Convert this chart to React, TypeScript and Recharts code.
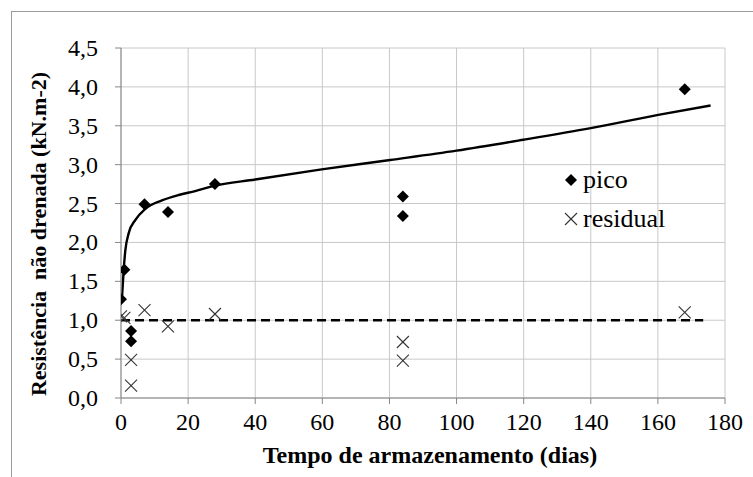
import { CartesianGrid, ComposedChart, Label, Line, Scatter, XAxis, YAxis } from "recharts";

const FONT = "'Liberation Serif', 'Times New Roman', serif";
const AXIS = "#868686";
const GRID = "#c8c8c8";

// measured points
const PICO_X = [0, 1, 3, 3, 7, 14, 28, 84, 84, 168];
const PICO_Y = [1.27, 1.65, 0.86, 0.73, 2.49, 2.39, 2.75, 2.59, 2.34, 3.97];
const RESID_X = [0, 1, 3, 3, 7, 14, 28, 84, 84, 168];
const RESID_Y = [1.05, 1.03, 0.49, 0.16, 1.13, 0.92, 1.08, 0.72, 0.48, 1.1];

// fitted curve for pico
const CURVE_X = [0.3, 0.8, 1.3, 2.3, 4.3, 7.2, 12.2, 17.2, 22.1, 27.1, 40, 59.8, 80.2, 100, 119.9, 140, 160.1, 175.7];
const CURVE_Y = [1.29, 1.65, 1.9, 2.12, 2.29, 2.43, 2.54, 2.61, 2.66, 2.72, 2.81, 2.94, 3.06, 3.18, 3.32, 3.47, 3.64, 3.76];

// residual reference level
const DASH_X = [0, 173.5];
const DASH_Y = [1, 1];

const X_TICKS = [0, 20, 40, 60, 80, 100, 120, 140, 160, 180];
const Y_TICKS = [0, 0.5, 1, 1.5, 2, 2.5, 3, 3.5, 4, 4.5];

const pico = PICO_X.map((x, i) => ({ x, y: PICO_Y[i] }));
const resid = RESID_X.map((x, i) => ({ x, y: RESID_Y[i] }));
const curve = CURVE_X.map((x, i) => ({ x, y: CURVE_Y[i] }));
const dash = DASH_X.map((x, i) => ({ x, y: DASH_Y[i] }));

const Diamond = (p: any) => {
  const { cx, cy } = p;
  const r = 6;
  return <polygon points={`${cx},${cy - r} ${cx + r},${cy} ${cx},${cy + r} ${cx - r},${cy}`} fill="#000" />;
};

const Cross = (p: any) => {
  const { cx, cy } = p;
  const r = 6;
  return (
    <g stroke="#333" strokeWidth={1.1}>
      <line x1={cx - r} y1={cy - r} x2={cx + r} y2={cy + r} />
      <line x1={cx - r} y1={cy + r} x2={cx + r} y2={cy - r} />
    </g>
  );
};

const fmt = (v: number) => v.toFixed(1).replace(".", ",");

const XTick = (p: any) => (
  <text x={p.x} y={p.y} dy={18} textAnchor="middle" fontFamily={FONT} fontSize={24} fill="#000">
    {p.payload.value}
  </text>
);

const YTick = (p: any) => (
  <text x={p.x} y={p.y} dy={8} textAnchor="end" fontFamily={FONT} fontSize={24} fill="#000">
    {fmt(p.payload.value)}
  </text>
);

const YTitle = () => (
  <text x={38} y={234} transform="rotate(-90, 38, 234)" textAnchor="middle" dominantBaseline="central"
        fontFamily={FONT} fontSize={22} fontWeight="bold" fill="#000" style={{ whiteSpace: "pre" }}>
    Resistência  não drenada (kN.m-2)
  </text>
);

const LegendBox = () => (
  <div style={{ position: "absolute", left: 563, top: 160, fontSize: 26, color: "#000", lineHeight: "39px" }}>
    <div style={{ display: "flex", alignItems: "center" }}>
      <svg width={18} height={16} style={{ marginRight: 2 }}><Diamond cx={8} cy={8} /></svg>
      <span>pico</span>
    </div>
    <div style={{ display: "flex", alignItems: "center" }}>
      <svg width={18} height={16} style={{ marginRight: 2 }}><Cross cx={8} cy={8} /></svg>
      <span>residual</span>
    </div>
  </div>
);

export default function App() {
  return (
    <div style={{ position: "absolute", left: 0, top: 0, width: 753, height: 477, background: "#fff", fontFamily: FONT }}>
      <div style={{ position: "absolute", left: 11, top: 11, right: 0, bottom: 0, borderTop: "1px solid #9a9a9a", borderLeft: "1px solid #9a9a9a" }} />
      <ComposedChart width={753} height={477} margin={{ top: 48, right: 28, bottom: 0, left: 0 }} style={{ position: "absolute", left: 0, top: 0 }}>
        <CartesianGrid stroke={GRID} />
        <XAxis
          type="number"
          dataKey="x"
          domain={[0, 180]}
          ticks={X_TICKS}
          interval={0}
          height={79}
          tickSize={6}
          tickMargin={8}
          axisLine={{ stroke: AXIS }}
          tickLine={{ stroke: AXIS }}
          tick={XTick}
          allowDataOverflow
        >
          <Label value="Tempo de armazenamento (dias)" position="insideBottom" offset={14} dx={7} style={{ fontSize: 24, fontWeight: "bold", fill: "#000", fontFamily: FONT }} />
        </XAxis>
        <YAxis
          type="number"
          dataKey="y"
          domain={[0, 4.5]}
          ticks={Y_TICKS}
          interval={0}
          width={121}
          tickSize={6}
          tickMargin={17}
          axisLine={{ stroke: AXIS }}
          tickLine={{ stroke: AXIS }}
          tick={YTick}
          allowDataOverflow
        >
          <Label content={YTitle} />
        </YAxis>
        <Line data={dash} dataKey="y" stroke="#000" strokeWidth={2.6} strokeDasharray="9 5" dot={false} activeDot={false} isAnimationActive={false} legendType="none" />
        <Line data={curve} dataKey="y" type="monotone" stroke="#000" strokeWidth={2.4} dot={false} activeDot={false} isAnimationActive={false} legendType="none" />
        <Scatter name="residual" data={resid} dataKey="y" shape={Cross} isAnimationActive={false} />
        <Scatter name="pico" data={pico} dataKey="y" shape={Diamond} isAnimationActive={false} />
      </ComposedChart>
      <LegendBox />
    </div>
  );
}
